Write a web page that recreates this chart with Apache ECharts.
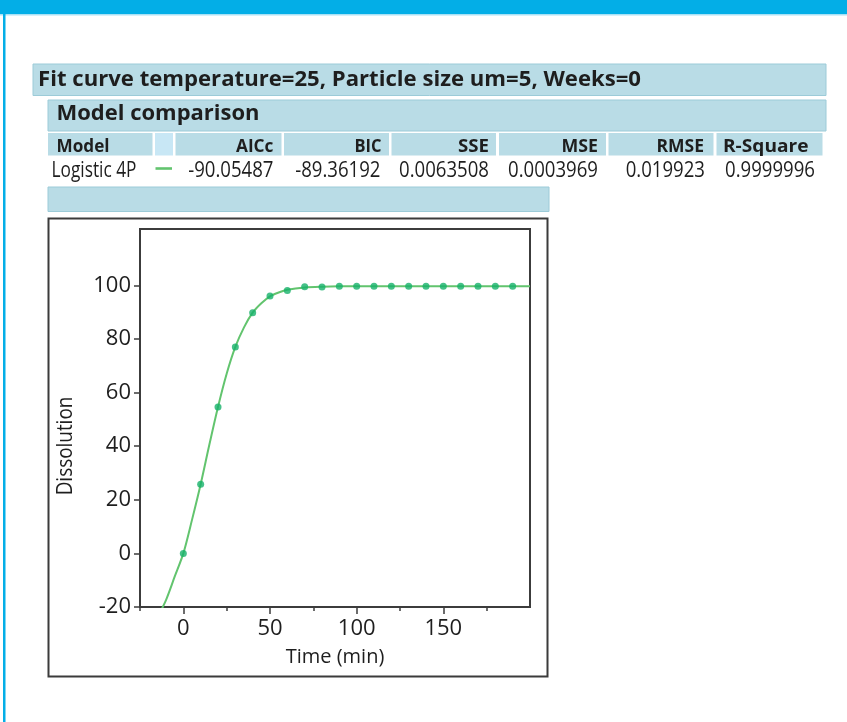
<!DOCTYPE html>
<html>
<head>
<meta charset="utf-8">
<title>Fit curve</title>
<script src="https://cdn.jsdelivr.net/npm/echarts@6.0.0/dist/echarts.min.js"></script>
<style>
  html, body { margin: 0; padding: 0; background: #ffffff; }
  #chart { width: 847px; height: 722px; }
</style>
</head>
<body>
<div id="chart"></div>
<script>
// Report texts
const reportTitle = 'Fit curve temperature=25, Particle size um=5, Weeks=0';
const sectionTitle = 'Model comparison';
const modelHeader = 'Model';
const statHeaders = ['AICc', 'BIC', 'SSE', 'MSE', 'RMSE', 'R-Square'];
const modelName = 'Logistic 4P';
const statValues = ['-90.05487', '-89.36192', '0.0063508', '0.0003969', '0.019923', '0.9999996'];

// Observed dissolution (%) against time (min)
const timePoints = [0, 10, 20, 30, 40, 50, 60, 70, 80, 90, 100, 110, 120, 130, 140, 150, 160, 170, 180, 190];
const dissolution = [0, 25.8, 54.6, 77.0, 89.8, 96.0, 98.1, 99.5, 99.4, 99.6, 99.6, 99.6, 99.6, 99.6, 99.6, 99.6, 99.6, 99.6, 99.6, 99.6];

// Fitted Logistic 4P curve, sampled along time
const curveTime = [-15, -10, -5, 0, 5, 10, 15, 20, 25, 30, 35, 40, 45, 50, 55, 60, 70, 80, 90, 100, 120, 150, 200];
const curveValue = [-24, -17.4, -8.7, 0, 12.5, 25.8, 40.5, 54.6, 67.0, 77.0, 84.3, 89.8, 93.3, 95.9, 97.3, 98.3, 99.2, 99.5, 99.6, 99.6, 99.6, 99.6, 99.6];

// Axis ticks
const xMajorTicks = [0, 50, 100, 150];
const xMinorTicks = [-25, 25, 75, 125, 175];
const yTicks = [-20, 0, 20, 40, 60, 80, 100];

const xAxisTitle = 'Time (min)';
const yAxisTitle = 'Dissolution';

// ---- layout and styling ----
const BAR_FILL = '#b9dce6';
const BAR_EDGE = '#9ccbd8';
const SWATCH_FILL = '#c8e7f5';
const INK = '#1e1e1e';
const FRAME = '#3c3c3c';
const FIT_GREEN = '#62c46e';
const DOT_GREEN = '#16b26a';
const UI_FONT = '"Open Sans", "Noto Sans", sans-serif';
const AXIS_FONT = '"Open Sans", "Noto Sans", sans-serif';

const measureCtx = document.createElement('canvas').getContext('2d');
function textWidth(text, weight, size) {
  measureCtx.font = weight + ' ' + size + 'px ' + UI_FONT;
  return measureCtx.measureText(text).width;
}
// horizontal squeeze that makes a string span the given width
function squeezeFor(text, weight, size, width) {
  return width / textWidth(text, weight, size);
}

function label(text, x, y, opts) {
  return {
    type: 'text',
    x: x, y: y,
    scaleX: opts.scaleX || 1,
    silent: true,
    z: 10,
    style: {
      text: text,
      fill: opts.fill || INK,
      font: (opts.weight || 'normal') + ' ' + opts.size + 'px ' + UI_FONT,
      align: opts.align || 'left',
      verticalAlign: 'middle'
    }
  };
}
function bar(x, y, w, h, fill, edge) {
  return {
    type: 'rect', silent: true, z: 1,
    shape: { x: x, y: y, width: w, height: h },
    style: { fill: fill, stroke: edge || null, lineWidth: edge ? 1 : 0 }
  };
}

const graphics = [];
// page chrome
graphics.push(bar(0, 0, 847, 14, '#03aee7'));
graphics.push(bar(0, 14, 847, 1.5, '#a9e1f5'));
graphics.push(bar(3, 14, 2.5, 708, '#03aee7'));

// report title bar
graphics.push(bar(33, 64, 793, 31.5, BAR_FILL, BAR_EDGE));
graphics.push(label(reportTitle, 38, 79.5, { weight: 'bold', size: 22,
  scaleX: squeezeFor(reportTitle, 'bold', 22, 603) }));

// section bar
graphics.push(bar(48, 100, 778, 31, BAR_FILL, BAR_EDGE));
graphics.push(label(sectionTitle, 56.5, 114, { weight: 'bold', size: 22,
  scaleX: squeezeFor(sectionTitle, 'bold', 22, 203) }));

// header cells
const headerCells = [[48, 152.5], [175.5, 281.5], [284, 389], [391.5, 496], [499, 606], [608.5, 713.5], [716.5, 822.5]];
headerCells.forEach(function (c) {
  graphics.push(bar(c[0], 133, c[1] - c[0], 22.5, BAR_FILL));
});
graphics.push(bar(155, 133, 18, 22.5, SWATCH_FILL));

// right edges of header texts and of the values below them
const headerRight = [273.5, 381.5, 489, 598, 704, 808.5];
const headerWidth = [37.5, 27, 31, 36.5, 47.5, 85.5];
const valueRight = [273.5, 380.5, 489, 598, 705, 815];

graphics.push(label(modelHeader, 56.5, 146.5, { weight: 'bold', size: 18.5,
  scaleX: squeezeFor(modelHeader, 'bold', 18.5, 53) }));
statHeaders.forEach(function (h, i) {
  graphics.push(label(h, headerRight[i], 146.5, { weight: 'bold', size: 18.5, align: 'right',
    scaleX: squeezeFor(h, 'bold', 18.5, headerWidth[i]) }));
});

// data row
const dataScale = squeezeFor('0.0003969', 'normal', 21, 90);
graphics.push(label(modelName, 51.5, 171.5, { size: 21,
  scaleX: squeezeFor(modelName, 'normal', 21, 85) }));
graphics.push({
  type: 'line', silent: true, z: 10,
  shape: { x1: 155.5, y1: 168.5, x2: 172, y2: 168.5 },
  style: { stroke: FIT_GREEN, lineWidth: 2.6 }
});
statValues.forEach(function (v, i) {
  graphics.push(label(v, valueRight[i], 171.5, { size: 21, align: 'right', scaleX: dataScale }));
});

// plot heading bar (empty)
graphics.push(bar(48, 187, 501, 24.5, BAR_FILL, BAR_EDGE));

// plot frame
graphics.push({
  type: 'rect', silent: true, z: 1,
  shape: { x: 48.5, y: 218.5, width: 499, height: 458 },
  style: { fill: null, stroke: '#3b3b3b', lineWidth: 2 }
});

// y-axis title, centred on the labelled range
graphics.push({
  type: 'text', silent: true, z: 10,
  x: 66, y: 446, rotation: Math.PI / 2,
  scaleX: 0.9,
  style: {
    text: yAxisTitle, fill: INK,
    font: 'normal 21px ' + AXIS_FONT,
    align: 'center', verticalAlign: 'middle'
  }
});

const chart = echarts.init(document.getElementById('chart'), null, { renderer: 'canvas' });

const axisLineStyle = { color: FRAME, width: 2 };
const tickLineStyle = { color: FRAME, width: 1.5 };

chart.setOption({
  animation: false,
  backgroundColor: '#ffffff',
  graphic: graphics,
  grid: {
    left: 140, top: 229, width: 390, height: 378,
    show: true, borderColor: FRAME, borderWidth: 2,
    backgroundColor: 'transparent'
  },
  xAxis: [
    {
      type: 'value', min: -25, max: 200,
      name: xAxisTitle, nameLocation: 'middle', nameGap: 40,
      nameTextStyle: { fontFamily: AXIS_FONT, fontSize: 20, color: INK },
      axisLine: { show: true, onZero: false, lineStyle: axisLineStyle },
      axisTick: { show: true, length: 7, customValues: xMajorTicks, lineStyle: tickLineStyle },
      axisLabel: { customValues: xMajorTicks, margin: 11, fontFamily: AXIS_FONT, fontSize: 22, color: INK },
      splitLine: { show: false }
    },
    {
      type: 'value', min: -25, max: 200, position: 'bottom',
      axisLine: { show: false, onZero: false },
      axisTick: { show: true, length: 4, customValues: xMinorTicks, lineStyle: tickLineStyle },
      axisLabel: { show: false },
      splitLine: { show: false }
    }
  ],
  yAxis: {
    type: 'value', min: -20, max: 121,
    axisLine: { show: true, onZero: false, lineStyle: axisLineStyle },
    axisTick: { show: true, length: 6, customValues: yTicks, lineStyle: tickLineStyle },
    axisLabel: { customValues: yTicks, margin: 9, fontFamily: AXIS_FONT, fontSize: 22, color: INK },
    splitLine: { show: false }
  },
  series: [
    {
      name: 'Logistic 4P',
      type: 'line',
      data: curveTime.map(function (t, i) { return [t, curveValue[i]]; }),
      smooth: 0.3,
      showSymbol: false,
      clip: true,
      lineStyle: { color: FIT_GREEN, width: 2 },
      z: 3
    },
    {
      name: 'Dissolution',
      type: 'scatter',
      data: timePoints.map(function (t, i) { return [t, dissolution[i]]; }),
      symbol: 'circle',
      symbolSize: 7,
      itemStyle: { color: DOT_GREEN },
      z: 4
    }
  ]
});
</script>
</body>
</html>
